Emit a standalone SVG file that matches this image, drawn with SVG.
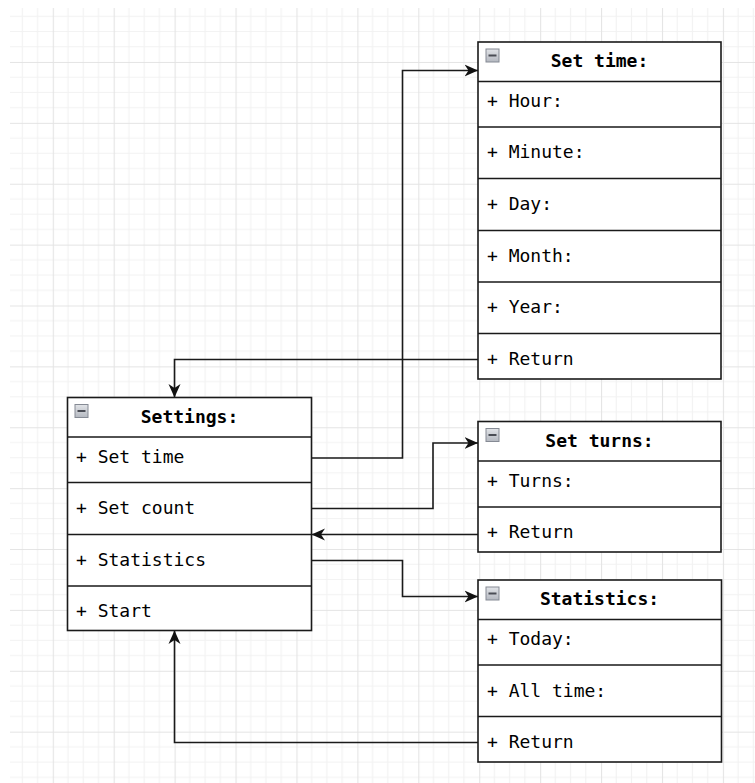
<svg xmlns="http://www.w3.org/2000/svg" width="755" height="783" viewBox="0 0 755 783">
  <defs>
    <pattern id="grid" patternUnits="userSpaceOnUse" x="52.76" y="1.1" width="60.92" height="60.88">
      <path d="M15.23,0 V60.88 M30.46,0 V60.88 M45.69,0 V60.88 M0,15.22 H60.92 M0,30.44 H60.92 M0,45.66 H60.92" stroke="#f2f2f2" stroke-width="1.2" fill="none"/>
      <path d="M0.5,0 V60.88 M0,0.5 H60.92" stroke="#e4e4e4" stroke-width="1.2" fill="none"/>
    </pattern>
    <linearGradient id="icoGrad" x1="0" y1="0" x2="0" y2="1">
      <stop offset="0" stop-color="#e2e4e8"/>
      <stop offset="1" stop-color="#b4b8c0"/>
    </linearGradient>
    <marker id="arrow" viewBox="0 0 14 13" refX="13.5" refY="6.5" markerWidth="14" markerHeight="13" markerUnits="userSpaceOnUse" orient="auto">
      <path d="M0,0.5 L13.5,6.5 L0,12.5 L4,6.5 Z" fill="#111"/>
    </marker>
    <g id="icon">
      <rect x="0.5" y="0.5" width="13" height="13" fill="url(#icoGrad)" stroke="#858a94" stroke-width="1"/>
      <path d="M3,7 H11" stroke="#4a4d55" stroke-width="2"/>
    </g>
  </defs>
  <style>
    .box { fill: #ffffff; stroke: #1a1a1a; stroke-width: 1.6; }
    .sep { stroke: #1a1a1a; stroke-width: 1.6; fill: none; }
    .hdr { font-family: "DejaVu Sans Mono", "Liberation Mono", monospace; font-size: 18px; font-weight: bold; fill: #000; text-anchor: middle; }
    .fld { font-family: "DejaVu Sans Mono", "Liberation Mono", monospace; font-size: 18px; fill: #000; }
    .conn { fill: none; stroke: #1a1a1a; stroke-width: 1.6; }
  </style>
  <rect x="0" y="0" width="755" height="783" fill="#ffffff"/>
  <rect x="10" y="8" width="745" height="775" fill="url(#grid)"/>

  <g id="connectors">
    <path class="conn" d="M311.5,458 H402.5 V70.5 H478" marker-end="url(#arrow)"/>
    <path class="conn" d="M311.5,508.5 H433 V443 H478" marker-end="url(#arrow)"/>
    <path class="conn" d="M478,534.5 H311.5" marker-end="url(#arrow)"/>
    <path class="conn" d="M311.5,560.5 H402.5 V596.5 H478" marker-end="url(#arrow)"/>
    <path class="conn" d="M478,359.5 H174.5 V397.5" marker-end="url(#arrow)"/>
    <path class="conn" d="M478,742.5 H174.5 V630.5" marker-end="url(#arrow)"/>
  </g>

  <g id="settings">
    <rect class="box" x="67.5" y="397.5" width="244" height="233"/>
    <path class="sep" d="M67.5,437 H311.5 M67.5,482.5 H311.5 M67.5,534.5 H311.5 M67.5,586 H311.5"/>
    <use href="#icon" x="74.5" y="404"/>
    <text class="hdr" x="189.5" y="423.3">Settings:</text>
    <text class="fld" x="76" y="463.3">+ Set time</text>
    <text class="fld" x="76" y="514">+ Set count</text>
    <text class="fld" x="76" y="565.7">+ Statistics</text>
    <text class="fld" x="76" y="616.7">+ Start</text>
  </g>

  <g id="set-time">
    <rect class="box" x="478" y="42" width="243" height="337"/>
    <path class="sep" d="M478,81.5 H721 M478,127 H721 M478,178.5 H721 M478,230.5 H721 M478,282 H721 M478,333.5 H721"/>
    <use href="#icon" x="485.5" y="48.5"/>
    <text class="hdr" x="599.5" y="67.3">Set time:</text>
    <text class="fld" x="487" y="106.7">+ Hour:</text>
    <text class="fld" x="487" y="158.3">+ Minute:</text>
    <text class="fld" x="487" y="210">+ Day:</text>
    <text class="fld" x="487" y="261.7">+ Month:</text>
    <text class="fld" x="487" y="313.3">+ Year:</text>
    <text class="fld" x="487" y="365">+ Return</text>
  </g>

  <g id="set-turns">
    <rect class="box" x="478" y="421.5" width="243" height="130.5"/>
    <path class="sep" d="M478,461 H721 M478,507 H721"/>
    <use href="#icon" x="485.5" y="428"/>
    <text class="hdr" x="599.5" y="446.7">Set turns:</text>
    <text class="fld" x="487" y="486.7">+ Turns:</text>
    <text class="fld" x="487" y="537.7">+ Return</text>
  </g>

  <g id="statistics">
    <rect class="box" x="478" y="580" width="243.5" height="182"/>
    <path class="sep" d="M478,619.5 H721.5 M478,665 H721.5 M478,716.5 H721.5"/>
    <use href="#icon" x="485.5" y="586.5"/>
    <text class="hdr" x="599.5" y="605">Statistics:</text>
    <text class="fld" x="487" y="645">+ Today:</text>
    <text class="fld" x="487" y="696.7">+ All time:</text>
    <text class="fld" x="487" y="748.3">+ Return</text>
  </g>
</svg>
